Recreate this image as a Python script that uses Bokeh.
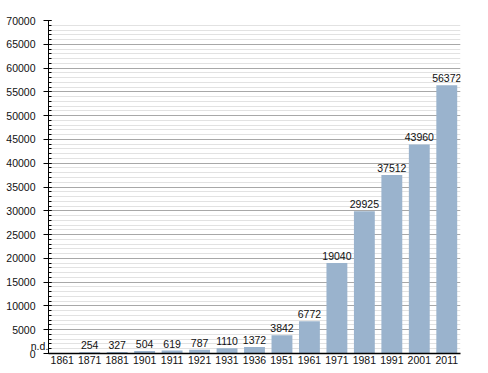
from bokeh.plotting import figure
from bokeh.models import ColumnDataSource, FactorRange, Range1d, SingleIntervalTicker, NumeralTickFormatter
from bokeh.core.properties import value
from bokeh.embed import file_html
from bokeh.resources import INLINE

years = ["1861", "1871", "1881", "1901", "1911", "1921", "1931", "1936",
         "1951", "1961", "1971", "1981", "1991", "2001", "2011"]
population = [0, 254, 327, 504, 619, 787, 1110, 1372,
              3842, 6772, 19040, 29925, 37512, 43960, 56372]
labels = ["", "254", "327", "504", "619", "787", "1110", "1372",
          "3842", "6772", "19040", "29925", "37512", "43960", "56372"]
missing_label = "n.d."

FONT = "Liberation Sans"

src = ColumnDataSource(dict(x=years, y=population, label=labels))

p = figure(width=488, height=373, output_backend="svg", toolbar_location=None,
           x_range=FactorRange(*years, range_padding=0.0), y_range=Range1d(0, 70000),
           min_border_left=48, min_border_right=28, min_border_top=20, min_border_bottom=20)
p.outline_line_color = None
p.background_fill_color = "white"

p.vbar(x="x", top="y", width=0.76, source=src, fill_color="#9ab3cd", line_color=None)
p.text(x="x", y="y", text="label", source=src, text_align="center", text_baseline="bottom",
       y_offset=-3, text_font=value(FONT), text_font_size="10.5px", text_color="#111111")

p.xgrid.visible = False
p.ygrid.ticker = SingleIntervalTicker(interval=5000, num_minor_ticks=5)
p.ygrid.grid_line_color = "#a8a8a8"
p.ygrid.minor_grid_line_color = "#e2e2e2"

p.yaxis.ticker = SingleIntervalTicker(interval=5000, num_minor_ticks=5)
p.yaxis.formatter = NumeralTickFormatter(format="0")
p.yaxis.major_label_text_font = FONT
p.yaxis.major_label_text_font_size = "10.5px"
p.yaxis.major_label_text_color = "#111111"
p.yaxis.axis_line_color = "black"
p.yaxis.major_tick_line_color = "black"
p.yaxis.minor_tick_line_color = "black"
p.yaxis.major_tick_out = 5
p.yaxis.major_tick_in = 3
p.yaxis.minor_tick_out = 0
p.yaxis.minor_tick_in = 3
p.yaxis.major_label_standoff = 8
# "n.d." for the first census year, shown at the foot of the value axis
p.yaxis.axis_label = missing_label + "\n\u00a0"
p.yaxis.axis_label_orientation = "horizontal"
p.yaxis.axis_label_align = "start"
p.yaxis.axis_label_standoff = -45
p.yaxis.axis_label_text_font = FONT
p.yaxis.axis_label_text_font_size = "10.5px"
p.yaxis.axis_label_text_font_style = "normal"
p.yaxis.axis_label_text_color = "#111111"

p.xaxis.major_label_text_font = FONT
p.xaxis.major_label_text_font_size = "10.5px"
p.xaxis.major_label_text_color = "#111111"
p.xaxis.axis_line_color = "black"
p.xaxis.axis_line_width = 1.5
p.xaxis.major_tick_line_color = None
p.xaxis.minor_tick_line_color = None
p.xaxis.major_tick_out = 0
p.xaxis.major_tick_in = 0
p.xaxis.major_label_standoff = 2

open("out.html", "w").write(file_html(p, INLINE))
